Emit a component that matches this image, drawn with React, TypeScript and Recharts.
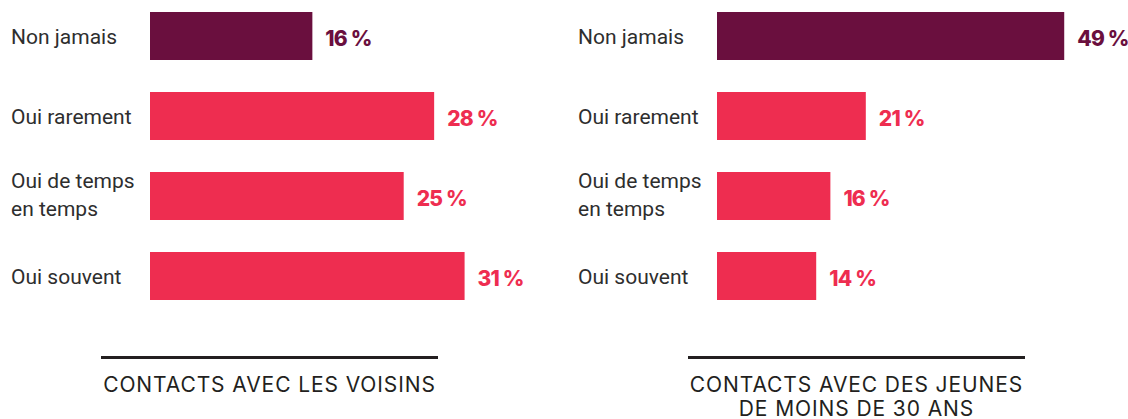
import React from "react";
import { BarChart, Bar, XAxis, YAxis, Cell, LabelList } from "recharts";

const categories = ["Non jamais", "Oui rarement", "Oui de temps en temps", "Oui souvent"];
const voisinsValues = [16, 28, 25, 31];
const jeunesValues = [49, 21, 16, 14];
const voisinsTitle = ["CONTACTS AVEC LES VOISINS"];
const jeunesTitle = ["CONTACTS AVEC DES JEUNES", "DE MOINS DE 30 ANS"];

const PURPLE = "#6A0F3E";
const PINK = "#EE2D50";
const colorFor = (i: number) => (i === 0 ? PURPLE : PINK);

function wrap(text: string, max = 13): string[] {
    const words = text.split(" ");
    const lines: string[] = [];
    let cur = "";
    for (const w of words) {
        const next = cur ? cur + " " + w : w;
        if (next.length > max && cur) {
            lines.push(cur);
            cur = w;
        } else {
            cur = next;
        }
    }
    if (cur) lines.push(cur);
    return lines;
}

function CategoryTick(props: any) {
    const { y, payload } = props;
    const lines = wrap(payload.value);
    const lh = 28;
    const start = y - ((lines.length - 1) * lh) / 2 + (lines.length === 1 ? 1 : -1);
    return (
        <text x={11} y={start} fill="#2E2E2E" fontFamily="Roboto, sans-serif" fontSize={21} dominantBaseline="central">
            {lines.map((l, i) => (
                <tspan key={i} x={11} y={start + i * lh}>
                    {l}
                </tspan>
            ))}
        </text>
    );
}

function ValueLabel(props: any) {
    const { x, y, width, height, value, index } = props;
    return (
        <text
            x={x + width + 13}
            y={y + height / 2 + 2}
            fill={colorFor(index)}
            fontFamily="Inter, sans-serif"
            fontWeight={800}
            fontSize={21}
            letterSpacing={-0.8}
            dominantBaseline="central"
        >
            {value} %
        </text>
    );
}

function Panel({ values, maxDomain, left }: { values: number[]; maxDomain: number; left: number }) {
    const data = categories.map((name, i) => ({ name, value: values[i] }));
    return (
        <div style={{ position: "absolute", left, top: -4 }}>
            <BarChart
                width={561}
                height={320}
                data={data}
                layout="vertical"
                margin={{ top: 0, right: 0, bottom: 0, left: 0 }}
                style={{ overflow: "visible" }}
            >
                <XAxis type="number" hide domain={[0, maxDomain]} />
                <YAxis
                    type="category"
                    dataKey="name"
                    width={150}
                    axisLine={false}
                    tickLine={false}
                    tick={<CategoryTick />}
                />
                <Bar dataKey="value" barSize={48} isAnimationActive={false}>
                    {data.map((_, i) => (
                        <Cell key={`cell-${i}`} fill={colorFor(i)} />
                    ))}
                    <LabelList dataKey="value" content={<ValueLabel />} />
                </Bar>
            </BarChart>
        </div>
    );
}

function Title({ lines, left }: { lines: string[]; left: number }) {
    return (
        <div style={{ position: "absolute", left, top: 356, width: 337 }}>
            <div style={{ height: 3, background: "#231F20" }} />
            <div
                style={{
                    marginTop: 14,
                    textAlign: "center",
                    fontFamily: "Inter, sans-serif",
                    fontSize: 21,
                    letterSpacing: 0.9,
                    lineHeight: "24px",
                    color: "#231F20",
                    whiteSpace: "nowrap",
                }}
            >
                {lines.map((l, i) => (
                    <div key={i}>{l}</div>
                ))}
            </div>
        </div>
    );
}

export default function App() {
    return (
        <div
            style={{
                position: "absolute",
                left: 0,
                top: 0,
                width: 1128,
                height: 419,
                overflow: "hidden",
                background: "#fff",
            }}
        >
            <Panel values={voisinsValues} maxDomain={40.5} left={0} />
            <Panel values={jeunesValues} maxDomain={58} left={567} />
            <Title lines={voisinsTitle} left={101} />
            <Title lines={jeunesTitle} left={688} />
        </div>
    );
}
